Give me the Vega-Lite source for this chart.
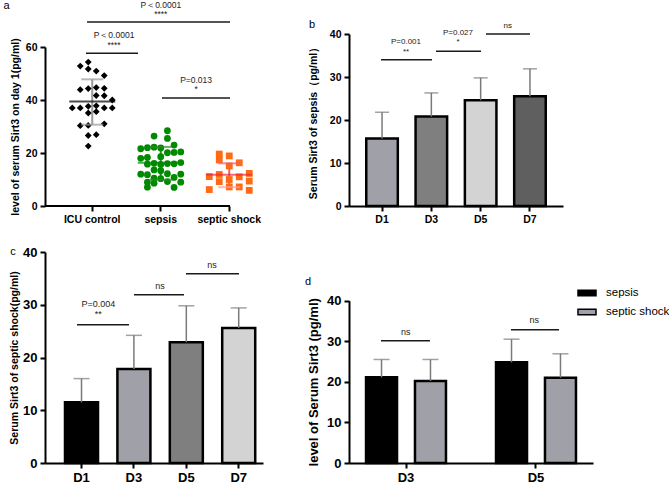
{
"$schema": "https://vega.github.io/schema/vega-lite/v6.json",
"autosize": {"type": "none"},
"padding": {"left": 45, "top": 34, "right": 624, "bottom": 450},
"config": {
  "view": {"stroke": null},
  "font": "Liberation Sans",
  "axis": {"grid": false, "domainColor": "#000", "domainWidth": 2, "tickColor": "#000", "tickWidth": 2, "tickSize": 5, "labelColor": "#000", "labelFontWeight": "bold", "titleFontWeight": "bold", "titleColor": "#000", "labelFont": "Liberation Sans", "titleFont": "Liberation Sans", "labelPadding": 3}
},
"columns": 2,
"spacing": {"row": 46, "column": 86},
"bounds": "flush",
"resolve": {"scale": {"x": "independent", "y": "independent", "color": "independent", "fill": "independent", "shape": "independent"}},
"datasets": {
  "swarm": [
    {"group": "ICU control", "dx": -0.6, "v": 54.3},
    {"group": "ICU control", "dx": -1.8, "v": 52.8},
    {"group": "ICU control", "dx": -0.6, "v": 51.7},
    {"group": "ICU control", "dx": 0.6, "v": 50.9},
    {"group": "ICU control", "dx": 1.8, "v": 49.2},
    {"group": "ICU control", "dx": -1.8, "v": 43.9},
    {"group": "ICU control", "dx": -0.6, "v": 44.3},
    {"group": "ICU control", "dx": 0.6, "v": 44.7},
    {"group": "ICU control", "dx": 1.8, "v": 44.4},
    {"group": "ICU control", "dx": 0.6, "v": 41.7},
    {"group": "ICU control", "dx": 1.8, "v": 41.6},
    {"group": "ICU control", "dx": 3.0, "v": 40.0},
    {"group": "ICU control", "dx": -3.0, "v": 37.0},
    {"group": "ICU control", "dx": -1.8, "v": 37.0},
    {"group": "ICU control", "dx": -0.6, "v": 37.6},
    {"group": "ICU control", "dx": 0.6, "v": 37.8},
    {"group": "ICU control", "dx": 1.8, "v": 37.0},
    {"group": "ICU control", "dx": 3.0, "v": 37.0},
    {"group": "ICU control", "dx": -0.6, "v": 35.1},
    {"group": "ICU control", "dx": 0.6, "v": 35.6},
    {"group": "ICU control", "dx": -1.8, "v": 30.3},
    {"group": "ICU control", "dx": -0.6, "v": 30.4},
    {"group": "ICU control", "dx": 1.8, "v": 31.0},
    {"group": "ICU control", "dx": -0.6, "v": 26.6},
    {"group": "ICU control", "dx": 0.6, "v": 26.9},
    {"group": "ICU control", "dx": -0.6, "v": 22.6},
    {"group": "sepsis", "dx": 1, "v": 28.4},
    {"group": "sepsis", "dx": -1, "v": 26.4},
    {"group": "sepsis", "dx": 1, "v": 25.5},
    {"group": "sepsis", "dx": 2, "v": 23.0},
    {"group": "sepsis", "dx": -3, "v": 21.6},
    {"group": "sepsis", "dx": -2, "v": 22.0},
    {"group": "sepsis", "dx": -1, "v": 22.2},
    {"group": "sepsis", "dx": 0, "v": 21.9},
    {"group": "sepsis", "dx": 1, "v": 20.1},
    {"group": "sepsis", "dx": 2, "v": 20.2},
    {"group": "sepsis", "dx": 3, "v": 20.4},
    {"group": "sepsis", "dx": -3, "v": 18.0},
    {"group": "sepsis", "dx": -2, "v": 18.3},
    {"group": "sepsis", "dx": 0, "v": 18.6},
    {"group": "sepsis", "dx": -2, "v": 15.8},
    {"group": "sepsis", "dx": -1, "v": 16.1},
    {"group": "sepsis", "dx": 0, "v": 15.7},
    {"group": "sepsis", "dx": 1, "v": 16.0},
    {"group": "sepsis", "dx": 2, "v": 15.9},
    {"group": "sepsis", "dx": 3, "v": 16.4},
    {"group": "sepsis", "dx": -1, "v": 13.6},
    {"group": "sepsis", "dx": 0, "v": 13.3},
    {"group": "sepsis", "dx": -3, "v": 12.0},
    {"group": "sepsis", "dx": -2, "v": 11.8},
    {"group": "sepsis", "dx": 1, "v": 12.2},
    {"group": "sepsis", "dx": 3, "v": 12.0},
    {"group": "sepsis", "dx": -1, "v": 10.5},
    {"group": "sepsis", "dx": 0, "v": 10.3},
    {"group": "sepsis", "dx": 2, "v": 10.8},
    {"group": "sepsis", "dx": -2, "v": 9.0},
    {"group": "sepsis", "dx": -1, "v": 8.6},
    {"group": "sepsis", "dx": 1, "v": 9.2},
    {"group": "sepsis", "dx": 3, "v": 9.0},
    {"group": "sepsis", "dx": -2, "v": 7.1},
    {"group": "sepsis", "dx": 2, "v": 7.0},
    {"group": "septic shock", "dx": -1.5, "v": 19.6},
    {"group": "septic shock", "dx": 0, "v": 18.9},
    {"group": "septic shock", "dx": -1.5, "v": 17.4},
    {"group": "septic shock", "dx": 1.5, "v": 16.3},
    {"group": "septic shock", "dx": 0, "v": 15.1},
    {"group": "septic shock", "dx": -3, "v": 11.1},
    {"group": "septic shock", "dx": -1.5, "v": 11.9},
    {"group": "septic shock", "dx": 0, "v": 10.0},
    {"group": "septic shock", "dx": 1.5, "v": 11.0},
    {"group": "septic shock", "dx": 3, "v": 12.3},
    {"group": "septic shock", "dx": -1.5, "v": 9.2},
    {"group": "septic shock", "dx": 3, "v": 9.4},
    {"group": "septic shock", "dx": 0, "v": 7.2},
    {"group": "septic shock", "dx": 1.5, "v": 7.2},
    {"group": "septic shock", "dx": -3, "v": 6.2},
    {"group": "septic shock", "dx": 3, "v": 5.9}
  ],
  "summ": [
    {"group": "ICU control", "mean": 39.4, "hi": 47.8, "lo": 30.7},
    {"group": "sepsis", "mean": 16.3, "hi": 22.3, "lo": 9.9},
    {"group": "septic shock", "mean": 11.8, "hi": 16.1, "lo": 7.1}
  ],
  "annA_l": [
    {"x": -0.077, "x2": 2.01, "y": 69.4},
    {"x": -0.092, "x2": 0.667, "y": 57.6},
    {"x": 1.017, "x2": 2.01, "y": 40.75}
  ],
  "annA_t": [
    {"x": 1.0, "y": 75.8, "label": "P＜0.0001"},
    {"x": 1.0, "y": 72.5, "label": "****"},
    {"x": 0.317, "y": 64.5, "label": "P＜0.0001"},
    {"x": 0.317, "y": 60.8, "label": "****"},
    {"x": 1.515, "y": 47.5, "label": "P=0.013"},
    {"x": 1.515, "y": 44.2, "label": "*"}
  ],
  "b": [
    {"day": "D1", "mean": 15.7, "err": 21.8},
    {"day": "D3", "mean": 20.8, "err": 26.3},
    {"day": "D5", "mean": 24.6, "err": 29.8},
    {"day": "D7", "mean": 25.5, "err": 31.9}
  ],
  "annB_l": [
    {"x": -0.021, "x2": 1.013, "y": 34.0},
    {"x": 1.094, "x2": 2.007, "y": 36.0},
    {"x": 2.108, "x2": 3.0, "y": 40.0}
  ],
  "annB_t": [
    {"x": 0.486, "y": 38.2, "label": "P=0.001"},
    {"x": 0.486, "y": 35.8, "label": "**"},
    {"x": 1.54, "y": 40.3, "label": "P=0.027"},
    {"x": 1.54, "y": 38.2, "label": "*"},
    {"x": 2.55, "y": 41.9, "label": "ns"}
  ],
  "c": [
    {"day": "D1", "mean": 11.5, "err": 16.0},
    {"day": "D3", "mean": 17.8, "err": 24.2},
    {"day": "D5", "mean": 22.9, "err": 29.8},
    {"day": "D7", "mean": 25.6, "err": 29.4}
  ],
  "annC_l": [
    {"x": -0.086, "x2": 0.906, "y": 26.2},
    {"x": 1.002, "x2": 1.956, "y": 31.9},
    {"x": 1.994, "x2": 3.006, "y": 35.9}
  ],
  "annC_t": [
    {"x": 0.32, "y": 30.2, "label": "P=0.004"},
    {"x": 0.32, "y": 28.3, "label": "**"},
    {"x": 1.5, "y": 33.6, "label": "ns"},
    {"x": 2.49, "y": 37.5, "label": "ns"}
  ],
  "d": [
    {"day": "D3", "grp": "sepsis", "mean": 21.1, "err": 25.5},
    {"day": "D3", "grp": "septic shock", "mean": 20.2, "err": 25.5},
    {"day": "D5", "grp": "sepsis", "mean": 24.8, "err": 30.5},
    {"day": "D5", "grp": "septic shock", "mean": 21.0, "err": 26.9}
  ],
  "annD_l": [
    {"x": -0.185, "x2": 0.192, "y": 30.1},
    {"x": 0.815, "x2": 1.185, "y": 32.8}
  ],
  "annD_t": [
    {"x": 0.005, "y": 32.3, "label": "ns"},
    {"x": 0.995, "y": 35.2, "label": "ns"}
  ]
},
"concat": [
  {
    "width": 185, "height": 172,
    "resolve": {"scale": {"x": "independent", "color": "independent"}},
    "layer": [
      {"data": {"name": "summ"}, "mark": {"type": "rule", "strokeWidth": 2},
       "encoding": {
         "x": {"field": "group", "type": "nominal", "scale": {"domain": ["ICU control", "sepsis", "septic shock"], "range": [13, 218.5], "paddingInner": 0, "paddingOuter": 0}, "axis": null},
         "y": {"field": "lo", "type": "quantitative", "scale": {"domain": [0, 60], "range": [172, 13], "nice": false, "zero": true}},
         "y2": {"field": "hi"},
         "color": {"field": "group", "type": "nominal", "scale": {"domain": ["ICU control", "sepsis", "septic shock"], "range": ["#9a9a9a", "#2a8a2a", "#e8606e"]}, "legend": null}}},
      {"data": {"name": "swarm"}, "mark": {"type": "point", "filled": true, "opacity": 1, "size": 46},
       "encoding": {
         "x": {"field": "group", "type": "nominal", "scale": {"domain": ["ICU control", "sepsis", "septic shock"], "range": [13, 218.5], "paddingInner": 0, "paddingOuter": 0}, "axis": {"title": null, "labelAngle": 0, "domain": false, "labelFontSize": 10.5}},
         "xOffset": {"field": "dx", "type": "quantitative", "scale": {"domain": [-3, 3], "range": [14.25, 54.25]}},
         "y": {"field": "v", "type": "quantitative", "axis": {"values": [0, 20, 40, 60], "title": "level of serum Sirt3 on day 1(pg/ml)", "titleFontSize": 10.5, "labelFontSize": 10.5, "titlePadding": 5}},
         "shape": {"field": "group", "type": "nominal", "scale": {"domain": ["ICU control", "sepsis", "septic shock"], "range": ["diamond", "circle", "square"]}, "legend": null},
         "color": {"field": "group", "type": "nominal", "scale": {"domain": ["ICU control", "sepsis", "septic shock"], "range": ["#000000", "#008a00", "#ff6a13"]}, "legend": null}}},
      {"data": {"name": "summ"}, "mark": {"type": "tick", "thickness": 2, "size": 46},
       "encoding": {
         "x": {"field": "group", "type": "nominal", "scale": {"domain": ["ICU control", "sepsis", "septic shock"], "range": [13, 218.5], "paddingInner": 0, "paddingOuter": 0}, "axis": null},
         "y": {"field": "mean", "type": "quantitative"},
         "color": {"field": "group", "type": "nominal", "scale": {"domain": ["ICU control", "sepsis", "septic shock"], "range": ["#000000", "#008a00", "#e8283c"]}, "legend": null}}},
      {"data": {"name": "summ"}, "mark": {"type": "tick", "thickness": 2, "size": 22},
       "encoding": {
         "x": {"field": "group", "type": "nominal", "scale": {"domain": ["ICU control", "sepsis", "septic shock"], "range": [13, 218.5], "paddingInner": 0, "paddingOuter": 0}, "axis": null},
         "y": {"field": "hi", "type": "quantitative"},
         "color": {"field": "group", "type": "nominal", "scale": {"domain": ["ICU control", "sepsis", "septic shock"], "range": ["#9a9a9a", "#2a8a2a", "#e8606e"]}, "legend": null}}},
      {"data": {"name": "summ"}, "mark": {"type": "tick", "thickness": 2, "size": 22},
       "encoding": {
         "x": {"field": "group", "type": "nominal", "scale": {"domain": ["ICU control", "sepsis", "septic shock"], "range": [13, 218.5], "paddingInner": 0, "paddingOuter": 0}, "axis": null},
         "y": {"field": "lo", "type": "quantitative"},
         "color": {"field": "group", "type": "nominal", "scale": {"domain": ["ICU control", "sepsis", "septic shock"], "range": ["#9a9a9a", "#2a8a2a", "#f4a0a8"]}, "legend": null}}},
      {"data": {"values": [{}]}, "mark": {"type": "rule", "strokeWidth": 2, "color": "#000"},
       "encoding": {"y": {"datum": 0}}},
      {"data": {"name": "annA_l"}, "mark": {"type": "rule", "strokeWidth": 1.5, "color": "#1a1a1a"},
       "encoding": {
         "x": {"field": "x", "type": "quantitative", "scale": {"domain": [-0.6905, 2.0102], "nice": false, "zero": false}, "axis": null},
         "x2": {"field": "x2"},
         "y": {"field": "y", "type": "quantitative"}}},
      {"data": {"name": "annA_t"}, "mark": {"type": "text", "fontSize": 8.5, "color": "#222", "baseline": "middle"},
       "encoding": {
         "x": {"field": "x", "type": "quantitative", "scale": {"domain": [-0.6905, 2.0102], "nice": false, "zero": false}, "axis": null},
         "y": {"field": "y", "type": "quantitative"},
         "text": {"field": "label"}}},
      {"data": {"values": [{"x": -1.25, "y": 75.3, "label": "a"}]}, "mark": {"type": "text", "fontSize": 11, "color": "#000", "baseline": "middle"},
       "encoding": {
         "x": {"field": "x", "type": "quantitative", "scale": {"domain": [-0.6905, 2.0102], "nice": false, "zero": false}, "axis": null},
         "y": {"field": "y", "type": "quantitative"},
         "text": {"field": "label"}}}
    ]
  },
  {
    "width": 214, "height": 172,
    "resolve": {"scale": {"x": "independent"}},
    "layer": [
      {"data": {"name": "b"}, "mark": {"type": "bar", "stroke": "#000", "strokeWidth": 2.5},
       "encoding": {
         "x": {"field": "day", "type": "nominal", "scale": {"domain": ["D1", "D3", "D5", "D7"], "paddingInner": 0.36, "paddingOuter": 0.35}, "axis": {"title": null, "labelAngle": 0, "labelFontSize": 10.5}},
         "y": {"field": "mean", "type": "quantitative", "scale": {"domain": [0, 40], "nice": false}, "axis": {"values": [0, 10, 20, 30, 40], "title": "Serum Sirt3 of sepsis（pg/ml）", "titleFontSize": 10.5, "labelFontSize": 10.5, "titlePadding": 11}},
         "fill": {"field": "day", "type": "nominal", "scale": {"domain": ["D1", "D3", "D5", "D7"], "range": ["#a0a0a8", "#7f7f7f", "#d3d3d3", "#5f5f5f"]}, "legend": null}}},
      {"data": {"name": "b"}, "mark": {"type": "rule", "color": "#7a7a7a", "strokeWidth": 1.5},
       "encoding": {
         "x": {"field": "day", "type": "nominal", "scale": {"domain": ["D1", "D3", "D5", "D7"], "paddingInner": 0.36, "paddingOuter": 0.35}, "axis": null},
         "y": {"field": "mean", "type": "quantitative"},
         "y2": {"field": "err"}}},
      {"data": {"name": "b"}, "mark": {"type": "tick", "color": "#7a7a7a", "thickness": 1.5, "size": 14},
       "encoding": {
         "x": {"field": "day", "type": "nominal", "scale": {"domain": ["D1", "D3", "D5", "D7"], "paddingInner": 0.36, "paddingOuter": 0.35}, "axis": null},
         "y": {"field": "err", "type": "quantitative"}}},
      {"data": {"name": "annB_l"}, "mark": {"type": "rule", "strokeWidth": 1.5, "color": "#1a1a1a"},
       "encoding": {
         "x": {"field": "x", "type": "quantitative", "scale": {"domain": [-0.670, 3.670], "nice": false, "zero": false}, "axis": null},
         "x2": {"field": "x2"},
         "y": {"field": "y", "type": "quantitative"}}},
      {"data": {"name": "annB_t"}, "mark": {"type": "text", "fontSize": 8, "color": "#222", "baseline": "middle"},
       "encoding": {
         "x": {"field": "x", "type": "quantitative", "scale": {"domain": [-0.670, 3.670], "nice": false, "zero": false}, "axis": null},
         "y": {"field": "y", "type": "quantitative"},
         "text": {"field": "label"}}},
      {"data": {"values": [{"x": -1.42, "y": 42.1, "label": "b"}]}, "mark": {"type": "text", "fontSize": 11, "color": "#000", "baseline": "middle"},
       "encoding": {
         "x": {"field": "x", "type": "quantitative", "scale": {"domain": [-0.670, 3.670], "nice": false, "zero": false}, "axis": null},
         "y": {"field": "y", "type": "quantitative"},
         "text": {"field": "label"}}}
    ]
  },
  {
    "width": 218, "height": 211,
    "resolve": {"scale": {"x": "independent"}},
    "layer": [
      {"data": {"name": "c"}, "mark": {"type": "bar", "stroke": "#000", "strokeWidth": 2.5},
       "encoding": {
         "x": {"field": "day", "type": "nominal", "scale": {"domain": ["D1", "D3", "D5", "D7"], "paddingInner": 0.37, "paddingOuter": 0.265, "align": 0.72}, "axis": {"title": null, "labelAngle": 0, "labelFontSize": 13}},
         "y": {"field": "mean", "type": "quantitative", "scale": {"domain": [0, 40], "nice": false}, "axis": {"values": [0, 10, 20, 30, 40], "title": "Serum Sirt3 of septic shock(pg/ml)", "titleFontSize": 10.5, "labelFontSize": 13, "titlePadding": 3}},
         "fill": {"field": "day", "type": "nominal", "scale": {"domain": ["D1", "D3", "D5", "D7"], "range": ["#000000", "#a0a0a8", "#7f7f7f", "#d3d3d3"]}, "legend": null}}},
      {"data": {"name": "c"}, "mark": {"type": "rule", "color": "#7a7a7a", "strokeWidth": 1.5},
       "encoding": {
         "x": {"field": "day", "type": "nominal", "scale": {"domain": ["D1", "D3", "D5", "D7"], "paddingInner": 0.37, "paddingOuter": 0.265, "align": 0.72}, "axis": null},
         "y": {"field": "mean", "type": "quantitative"},
         "y2": {"field": "err"}}},
      {"data": {"name": "c"}, "mark": {"type": "tick", "color": "#7a7a7a", "thickness": 1.5, "size": 16},
       "encoding": {
         "x": {"field": "day", "type": "nominal", "scale": {"domain": ["D1", "D3", "D5", "D7"], "paddingInner": 0.37, "paddingOuter": 0.265, "align": 0.72}, "axis": null},
         "y": {"field": "err", "type": "quantitative"}}},
      {"data": {"name": "annC_l"}, "mark": {"type": "rule", "strokeWidth": 1.5, "color": "#1a1a1a"},
       "encoding": {
         "x": {"field": "x", "type": "quantitative", "scale": {"domain": [-0.6966, 3.4637], "nice": false, "zero": false}, "axis": null},
         "x2": {"field": "x2"},
         "y": {"field": "y", "type": "quantitative"}}},
      {"data": {"name": "annC_t"}, "mark": {"type": "text", "fontSize": 9, "color": "#222", "baseline": "middle"},
       "encoding": {
         "x": {"field": "x", "type": "quantitative", "scale": {"domain": [-0.6966, 3.4637], "nice": false, "zero": false}, "axis": null},
         "y": {"field": "y", "type": "quantitative"},
         "text": {"field": "label"}}},
      {"data": {"values": [{"x": -1.307, "y": 40.0, "label": "c"}]}, "mark": {"type": "text", "fontSize": 11, "color": "#000", "baseline": "middle"},
       "encoding": {
         "x": {"field": "x", "type": "quantitative", "scale": {"domain": [-0.6966, 3.4637], "nice": false, "zero": false}, "axis": null},
         "y": {"field": "y", "type": "quantitative"},
         "text": {"field": "label"}}}
    ]
  },
  {
    "width": 244, "height": 211,
    "resolve": {"scale": {"x": "independent"}},
    "layer": [
      {"data": {"name": "d"}, "mark": {"type": "bar", "stroke": "#000", "strokeWidth": 2.5},
       "encoding": {
         "x": {"field": "day", "type": "nominal", "scale": {"domain": ["D3", "D5"], "paddingInner": 0.385, "paddingOuter": 0.131}, "axis": {"title": null, "labelAngle": 0, "labelFontSize": 13}},
         "xOffset": {"field": "grp", "type": "nominal", "scale": {"domain": ["sepsis", "septic shock"], "paddingInner": 0.367, "paddingOuter": 0}},
         "y": {"field": "mean", "type": "quantitative", "scale": {"domain": [0, 40], "range": [211, 48.6], "nice": false}, "axis": {"values": [0, 10, 20, 30, 40], "title": "level of Serum Sirt3 (pg/ml)", "titleFontSize": 13, "labelFontSize": 13, "titlePadding": 6}},
         "fill": {"field": "grp", "type": "nominal", "scale": {"domain": ["sepsis", "septic shock"], "range": ["#000000", "#a0a0a8"]},
           "legend": {"orient": "none", "legendX": 228, "legendY": 31, "title": null, "symbolType": "M-1,-0.3H1V0.3H-1Z", "symbolSize": 324, "symbolStrokeColor": "#000", "symbolStrokeWidth": 1.5, "labelFontSize": 11.5, "labelFont": "Liberation Sans", "labelColor": "#000", "labelOffset": 9, "rowPadding": 3}}}},
      {"data": {"name": "d"}, "mark": {"type": "rule", "color": "#7a7a7a", "strokeWidth": 1.5},
       "encoding": {
         "x": {"field": "day", "type": "nominal", "scale": {"domain": ["D3", "D5"], "paddingInner": 0.385, "paddingOuter": 0.131}, "axis": null},
         "xOffset": {"field": "grp", "type": "nominal", "scale": {"domain": ["sepsis", "septic shock"], "paddingInner": 0.367, "paddingOuter": 0}},
         "y": {"field": "mean", "type": "quantitative"},
         "y2": {"field": "err"}}},
      {"data": {"name": "d"}, "mark": {"type": "tick", "color": "#7a7a7a", "thickness": 1.5, "size": 16},
       "encoding": {
         "x": {"field": "day", "type": "nominal", "scale": {"domain": ["D3", "D5"], "paddingInner": 0.385, "paddingOuter": 0.131}, "axis": null},
         "xOffset": {"field": "grp", "type": "nominal", "scale": {"domain": ["sepsis", "septic shock"], "paddingInner": 0.367, "paddingOuter": 0}},
         "y": {"field": "err", "type": "quantitative"}}},
      {"data": {"name": "annD_l"}, "mark": {"type": "rule", "strokeWidth": 1.5, "color": "#1a1a1a"},
       "encoding": {
         "x": {"field": "x", "type": "quantitative", "scale": {"domain": [-0.4308, 1.4462], "nice": false, "zero": false}, "axis": null},
         "x2": {"field": "x2"},
         "y": {"field": "y", "type": "quantitative"}}},
      {"data": {"name": "annD_t"}, "mark": {"type": "text", "fontSize": 9, "color": "#222", "baseline": "middle"},
       "encoding": {
         "x": {"field": "x", "type": "quantitative", "scale": {"domain": [-0.4308, 1.4462], "nice": false, "zero": false}, "axis": null},
         "y": {"field": "y", "type": "quantitative"},
         "text": {"field": "label"}}},
      {"data": {"values": [{"x": -0.746, "y": 44.5, "label": "d"}]}, "mark": {"type": "text", "fontSize": 11, "color": "#000", "baseline": "middle"},
       "encoding": {
         "x": {"field": "x", "type": "quantitative", "scale": {"domain": [-0.4308, 1.4462], "nice": false, "zero": false}, "axis": null},
         "y": {"field": "y", "type": "quantitative"},
         "text": {"field": "label"}}}
    ]
  }
]
}
